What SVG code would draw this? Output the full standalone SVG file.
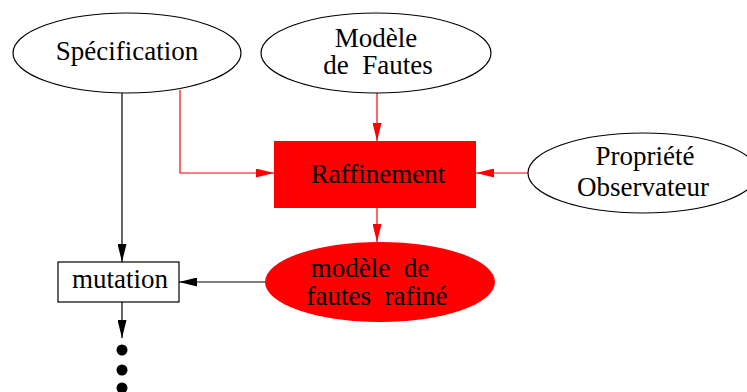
<svg xmlns="http://www.w3.org/2000/svg" width="747" height="392" viewBox="0 0 747 392">
<defs>
<style>
text{font-family:'Liberation Serif','DejaVu Serif',serif;font-size:27px;fill:#000;text-anchor:middle;white-space:pre}
.k{stroke:#000;stroke-width:1.2;fill:none}
.r{stroke:#ff0000;stroke-width:1.2;fill:none}
</style>
<marker id="ak" viewBox="0 0 18 9" refX="18" refY="4.5" markerWidth="18" markerHeight="9" markerUnits="userSpaceOnUse" orient="auto"><path d="M0,0 L18,4.5 L0,9 Z" fill="#000"/></marker>
<marker id="ar" viewBox="0 0 18 9" refX="18" refY="4.5" markerWidth="18" markerHeight="9" markerUnits="userSpaceOnUse" orient="auto"><path d="M0,0 L18,4.5 L0,9 Z" fill="#ff0000"/></marker>
</defs>
<rect width="747" height="392" fill="#fff"/>
<g id="connectors">
<path class="k" d="M122,93 V262" marker-end="url(#ak)"/>
<path class="r" d="M180,90 V173 H274" marker-end="url(#ar)"/>
<path class="r" d="M377,93 V141" marker-end="url(#ar)"/>
<path class="r" d="M528,173 H476" marker-end="url(#ar)"/>
<path class="r" d="M377,208 V242" marker-end="url(#ar)"/>
<path class="k" d="M265,282 H179" marker-end="url(#ak)"/>
<path class="k" d="M122,302 V338" marker-end="url(#ak)"/>
</g>
<g id="specification">
<ellipse cx="127" cy="53" rx="114" ry="40" fill="#fff" stroke="#000" stroke-width="1.2"/>
<text x="127" y="60" font-family="Liberation Serif, serif">Spécification</text>
</g>
<g id="modele-fautes">
<ellipse cx="376" cy="53" rx="115" ry="40" fill="#fff" stroke="#000" stroke-width="1.2"/>
<text x="376" y="47">Modèle</text>
<text x="378" y="74">de  Fautes</text>
</g>
<g id="raffinement">
<rect x="274" y="141" width="202" height="67" fill="#ff0000"/>
<text x="378" y="183">Raffinement</text>
</g>
<g id="propriete">
<ellipse cx="643" cy="173" rx="115" ry="40" fill="#fff" stroke="#000" stroke-width="1.2"/>
<text x="645" y="165">Propriété</text>
<text x="643" y="196">Observateur</text>
</g>
<g id="modele-raffine">
<ellipse cx="380" cy="282" rx="115" ry="40" fill="#ff0000"/>
<text x="370" y="277">modèle  de</text>
<text x="377" y="305">fautes  rafiné</text>
</g>
<g id="mutation">
<rect x="58" y="262" width="121" height="40" fill="#fff" stroke="#000" stroke-width="1.2"/>
<text x="120" y="288">mutation</text>
</g>
<g id="dots" fill="#000">
<circle cx="122" cy="350" r="5.5"/>
<circle cx="122" cy="370" r="5.5"/>
<circle cx="122" cy="388" r="5.5"/>
</g>
</svg>
